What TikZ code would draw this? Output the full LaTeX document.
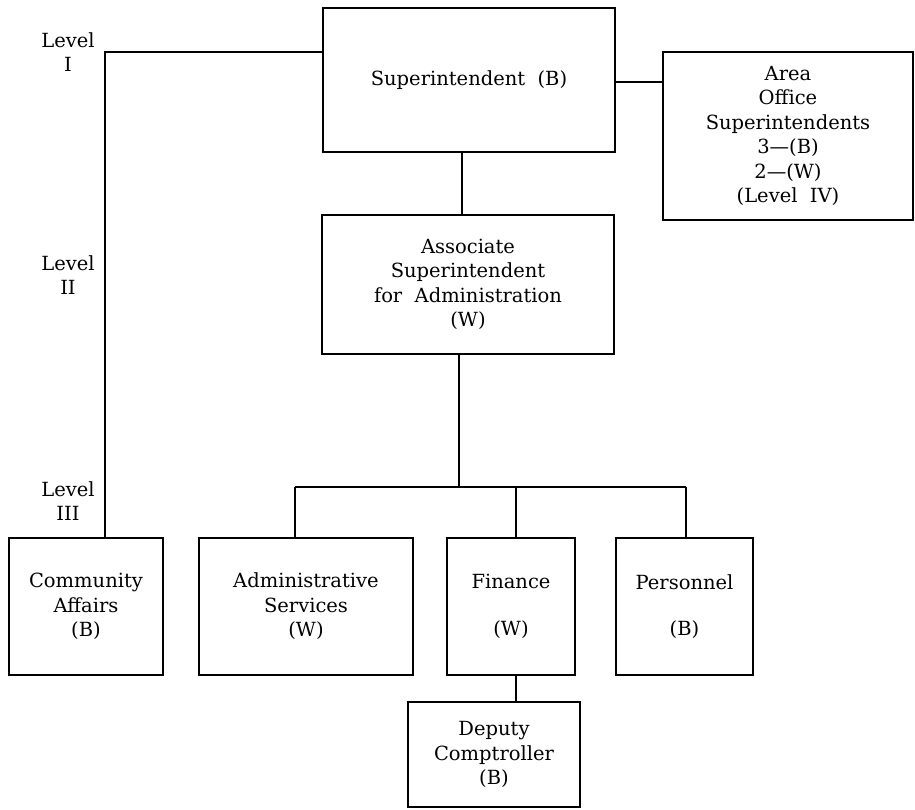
\documentclass[tikz,border=0pt]{standalone}
\usepackage{fontspec}
\setmainfont{DejaVu Serif}
\begin{document}
\begin{tikzpicture}[x=1pt,y=-1pt,
  box/.style={draw,line width=1.6pt,inner sep=0pt,align=center,
    font=\fontsize{19.5}{24.5}\selectfont},
  lvl/.style={inner sep=0pt,align=center,font=\fontsize{19.5}{24.5}\selectfont},
  conn/.style={line width=1.6pt}]
\useasboundingbox (0,0) rectangle (915,809);
% boxes
\node[box,minimum width=292pt,minimum height=144pt] (sup) at (469,80) {Superintendent\ \ (B)};
\node[box,minimum width=250pt,minimum height=168pt] (area) at (788,136) {Area\\Office\\Superintendents\\3---(B)\\2---(W)\\(Level\ \ IV)};
\node[box,minimum width=292pt,minimum height=139pt] (assoc) at (468,284.5) {Associate\\Superintendent\\for\ \ Administration\\(W)};
\node[box,minimum width=154pt,minimum height=137pt] (comm) at (86,606.5) {Community\\Affairs\\(B)};
\node[box,minimum width=214pt,minimum height=137pt] (admin) at (306,606.5) {Administrative\\Services\\(W)};
\node[box,minimum width=128pt,minimum height=137pt] (fin) at (511,606.5) {Finance\\[22pt](W)};
\node[box,minimum width=137pt,minimum height=137pt] (pers) at (684.5,606.5) {Personnel\\[22pt](B)};
\node[box,minimum width=172pt,minimum height=105pt] (dep) at (494,754.5) {Deputy\\Comptroller\\(B)};
% level labels
\node[lvl] (l1) at (68,52) {Level\\I};
\node[lvl] (l2) at (68,275) {Level\\II};
\node[lvl] (l3) at (68,501) {Level\\III};
% connector helpers
\coordinate (lv) at (105,52);
\coordinate (sa) at (462,82);
\coordinate (ab) at (459,487);
\coordinate (d1) at (295,487);
\coordinate (d2) at (516,487);
\coordinate (d3) at (686,487);
% connectors
\draw[conn] (sup.west |- lv) -- (lv) -- (lv |- comm.north);
\draw[conn] (sup.east |- sa) -- (area.west |- sa);
\draw[conn] (sup.south -| sa) -- (assoc.north -| sa);
\draw[conn] (assoc.south -| ab) -- (ab);
\draw[conn] (d1) -- (d3);
\draw[conn] (d1) -- (d1 |- admin.north);
\draw[conn] (d2) -- (d2 |- fin.north);
\draw[conn] (d3) -- (d3 |- pers.north);
\draw[conn] (fin.south -| d2) -- (dep.north -| d2);
\end{tikzpicture}
\end{document}
